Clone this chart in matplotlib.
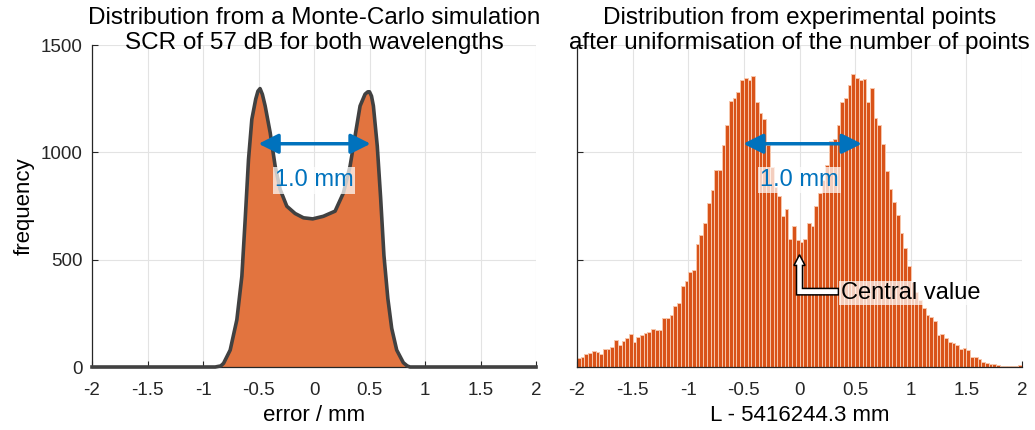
import numpy as np
import matplotlib
matplotlib.use("Agg")
import matplotlib.pyplot as plt

plt.rcParams['font.family'] = ['Liberation Sans', 'DejaVu Sans']

# Monte-Carlo envelope (error in mm, frequency)
mc_x = [-2.0, -0.89, -0.84, -0.815, -0.755, -0.695, -0.65, -0.62, -0.59, -0.56, -0.525,
        -0.505, -0.486, -0.465, -0.44, -0.395, -0.35, -0.305, -0.245, -0.17, -0.095,
        -0.012, 0.084, 0.19, 0.265, 0.325, 0.37, 0.415, 0.46, 0.485, 0.5, 0.518,
        0.535, 0.57, 0.6, 0.63, 0.665, 0.70, 0.745, 0.805, 0.84, 0.865, 2.0]
mc_y = [0, 0, 5, 17, 79, 220, 422, 687, 967, 1154, 1248,
        1285, 1297, 1270, 1216, 1092, 936, 827, 749, 715, 695,
        690, 702, 726, 811, 936, 1076, 1216, 1271, 1282, 1282, 1262,
        1216, 1029, 790, 520, 320, 180, 79, 20, 5, 0, 0]

# experimental histogram, 120 bins from -2 to 2 mm
exp_counts = [42, 45, 59, 64, 76, 72, 61, 84, 86, 95,
              125, 103, 120, 137, 154, 117, 139, 149, 159, 165,
              176, 173, 173, 227, 227, 243, 285, 299, 378, 400,
              441, 450, 575, 617, 671, 765, 824, 917, 917, 1033,
              1126, 1240, 1251, 1282, 1338, 1344, 1338, 1354, 1235, 1185,
              1157, 1033, 930, 840, 796, 702, 737, 597, 659, 593,
              581, 598, 671, 656, 749, 810, 870, 939, 1053, 1061,
              1126, 1235, 1251, 1313, 1363, 1347, 1338, 1341, 1235, 1302,
              1162, 1126, 1037, 913, 830, 768, 710, 625, 553, 472,
              394, 350, 310, 274, 243, 235, 212, 150, 154, 134,
              118, 114, 103, 83, 87, 79, 48, 48, 36, 23,
              17, 14, 12, 8, 6, 6, 5, 4, 4, 8]
bin_edges = np.linspace(-2, 2, len(exp_counts) + 1)

xticks = [-2, -1.5, -1, -0.5, 0, 0.5, 1, 1.5, 2]
xticklabels = ['-2', '-1.5', '-1', '-0.5', '0', '0.5', '1', '1.5', '2']
yticks = [0, 500, 1000, 1500]

titles = ["Distribution from a Monte-Carlo simulation\nSCR of 57 dB for both wavelengths",
          "Distribution from experimental points\nafter uniformisation of the number of points"]

blue = '#0072BD'
fig = plt.figure(figsize=(10.35, 4.3), dpi=100)
ax1 = fig.add_axes([92/1035, 63/430, 444/1035, 322/430])
ax2 = fig.add_axes([577/1035, 63/430, 445/1035, 322/430])

for ax in (ax1, ax2):
    ax.set_xlim(-2, 2)
    ax.set_ylim(0, 1500)
    ax.set_xticks(xticks)
    ax.set_xticklabels(xticklabels)
    ax.set_yticks(yticks)
    ax.grid(True, color='#e3e3e3', linewidth=0.8)
    ax.set_axisbelow(True)
    ax.spines['top'].set_visible(False)
    ax.spines['right'].set_visible(False)
    for s in ('left', 'bottom'):
        ax.spines[s].set_color('#262626')
        ax.spines[s].set_linewidth(0.9)
    ax.tick_params(direction='in', length=4, colors='#262626', labelsize=13.5)
    ax.tick_params(axis='x', pad=11)
    ax.tick_params(axis='y', pad=7)

# left: simulation
ax1.fill_between(mc_x, mc_y, color='#e2743f', linewidth=0, zorder=2)
ax1.plot(mc_x, mc_y, color='#414141', linewidth=2.6, zorder=4, solid_joinstyle='round',
         clip_on=False)
ax1.set_ylabel('frequency', fontsize=16)
ax1.set_xlabel('error / mm', fontsize=16, labelpad=4)

# right: experiment
ax2.bar(bin_edges[:-1], exp_counts, width=bin_edges[1] - bin_edges[0], align='edge',
        color='#D95319', edgecolor='#f7c6ab', linewidth=0.7, zorder=2)
ax2.set_yticklabels([])
ax2.set_xlabel('L - 5416244.3 mm', fontsize=16, labelpad=4)

for ax, title in zip((ax1, ax2), titles):
    ax.text(0.5, 1.045, title, transform=ax.transAxes, ha='center', va='center',
            fontsize=17.5, linespacing=1.15)

# 1.0 mm annotations
for ax, (x0, x1), ty in ((ax1, (-0.5, 0.51), 869), (ax2, (-0.505, 0.56), 872)):
    ax.annotate('', xy=(x1, 1040), xytext=(x0, 1040),
                arrowprops=dict(arrowstyle='<|-|>,head_length=0.8,head_width=0.4',
                                color=blue, lw=2.5, shrinkA=0, shrinkB=0,
                                mutation_scale=15), zorder=6)
    ax.text(0.0, ty, '1.0 mm', color=blue, fontsize=17, ha='center', va='center',
            zorder=7, bbox=dict(facecolor='white', alpha=0.72, edgecolor='none', pad=1.5))

# central value arrow
arrow_x = [0.0, 0.05, 0.027, 0.027, 0.35, 0.35, -0.027, -0.027, -0.05]
arrow_y = [523, 473, 473, 366, 366, 336, 336, 473, 473]
ax2.fill(arrow_x, arrow_y, facecolor='white', edgecolor='black', linewidth=1.1, zorder=6)
ax2.text(0.37, 345, 'Central value', fontsize=17, ha='left', va='center', zorder=7,
         bbox=dict(facecolor='white', alpha=0.72, edgecolor='none', pad=1.0))

fig.savefig('out.png', dpi=100)
